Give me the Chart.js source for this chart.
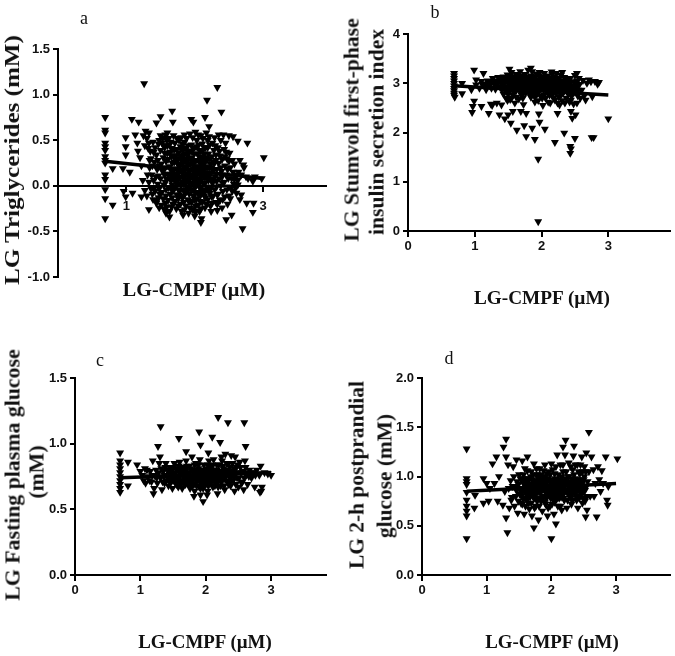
<!DOCTYPE html>
<html>
<head>
<meta charset="utf-8">
<title>LG-CMPF panels</title>
<script src="https://cdn.jsdelivr.net/npm/chart.js@4/dist/chart.umd.min.js"></script>
<style>
    html, body { margin: 0; padding: 0; background: #fff; }
    body { position: relative; width: 675px; height: 656px; overflow: hidden; }
    canvas { position: absolute; filter: blur(0.5px); }
    .label { position: absolute; font-family: "Liberation Serif", serif; color: #111; white-space: nowrap; filter: blur(0.4px); }
    .letter { font-size: 18px; transform: translate(-50%, -50%); }
    .xname { font-size: 18px; font-weight: bold; }
    .yname { font-size: 20px; font-weight: bold; }
</style>
</head>
<body>
<canvas id="panel-a" width="340" height="310" style="left:0;top:0"></canvas>
<canvas id="panel-b" width="335" height="310" style="left:340px;top:0"></canvas>
<canvas id="panel-c" width="340" height="316" style="left:0;top:340px"></canvas>
<canvas id="panel-d" width="335" height="316" style="left:340px;top:340px"></canvas>
<div class="label letter" style="left:84px;top:18px">a</div>
<div class="label letter" style="left:435px;top:12px">b</div>
<div class="label letter" style="left:100px;top:360px">c</div>
<div class="label letter" style="left:449px;top:358px">d</div>
<div class="label xname" style="left:194px;top:290px;transform:translate(-50%,-50%) scaleX(1.12)">LG-CMPF (µM)</div>
<div class="label xname" style="left:542px;top:298px;transform:translate(-50%,-50%) scaleX(1.07)">LG-CMPF (µM)</div>
<div class="label xname" style="left:205px;top:642px;transform:translate(-50%,-50%) scaleX(1.05)">LG-CMPF (µM)</div>
<div class="label xname" style="left:552px;top:642px;transform:translate(-50%,-50%) scaleX(1.05)">LG-CMPF (µM)</div>
<div class="label yname" style="left:12px;top:160px;font-size:22px;transform:translate(-50%,-50%) rotate(-90deg) scaleX(1.14)">LG Triglycerides (mM)</div>
<div class="label yname" style="left:352px;top:130px;transform:translate(-50%,-50%) rotate(-90deg) scaleX(1.08)">LG Stumvoll first-phase</div>
<div class="label yname" style="left:377px;top:132px;transform:translate(-50%,-50%) rotate(-90deg) scaleX(1.08)">insulin secretion index</div>
<div class="label yname" style="left:13px;top:475px;transform:translate(-50%,-50%) rotate(-90deg) scaleX(1.09)">LG Fasting plasma glucose</div>
<div class="label yname" style="left:37px;top:472px;transform:translate(-50%,-50%) rotate(-90deg) scaleX(1.09)">(mM)</div>
<div class="label yname" style="left:357px;top:475px;transform:translate(-50%,-50%) rotate(-90deg) scaleX(1.07)">LG 2-h postprandial</div>
<div class="label yname" style="left:385px;top:476px;transform:translate(-50%,-50%) rotate(-90deg) scaleX(1.07)">glucose (mM)</div>
<script>
// x ticks, y ticks
const xTicksA = [1, 2, 3];
const xTicks = [0, 1, 2, 3];
const yTicksA = [-1, -0.5, 0, 0.5, 1, 1.5];
const yTicksB = [0, 1, 2, 3, 4];
const yTicksC = [0, 0.5, 1, 1.5];
const yTicksD = [0, 0.5, 1, 1.5, 2];

// regression lines
const trendX = [0.69, 3.0];
const trendA = [0.27, 0.08];
const trendB = [2.95, 2.76];
const trendC = [0.74, 0.78];
const trendD = [0.85, 0.93];

// a: triglycerides
const pointsA = [
[.69,.75],[.69,.61],[.69,.58],[.69,.47],[.69,.43],[.69,.39],[.69,.32],[.69,.28],[.69,.25],[.69,.12],[.69,.07],[.69,-.04],[.69,-.14],[.69,-.36],
[1.26,1.12],[2.33,1.08],[2.18,.94],[2.39,.81],[1.67,.82],[1.08,.73],[1.18,.7],[1.5,.76],[1.44,.69],[1.68,.7],[1.95,.73],[1.98,.7],[2.15,.75],[2.21,.65],
[.99,.53],[1.13,.56],[1.28,.6],[.99,.43],[1.16,.47],[.99,.34],[.8,.19],[.95,.19],[1.05,.15],[.8,-.21],[.96,-.06],[.99,-.12],[1.09,-.08],[1.22,-.12],[1.33,-.26],
[1.63,-.34],[1.83,-.32],[2.09,-.4],[2.46,-.37],[2.54,-.32],[2.7,-.47],[2.85,-.29],[2.86,-.19],[2.76,-.19],[2.68,-.1],[2.66,-.15],[3.01,.31],[2.77,.47],[2.63,.49],[2.56,.54],
[2.66,.28],[2.71,.23],[2.85,.05],[2.88,.1],[2.98,.08],[1.17,.38],[1.2,.31],[1.25,.55],[1.3,.52],[1.33,.58],[1.22,.22],[1.27,.44],[1.24,.06],[1.27,-.05],[1.3,-.11],
[1.33,.47],[1.35,.38],[1.36,.3],[1.34,.2],[1.37,.12],[1.33,.04],[1.36,-.03],[1.38,-.09],[1.39,-.15],
[1.42,.42],[1.44,.34],[1.41,.26],[1.45,.18],[1.43,.1],[1.46,.02],[1.42,-.06],[1.47,-.13],[1.44,-.19],[1.48,.5],[1.5,.55],
[1.52,.47],[1.5,.39],[1.54,.31],[1.51,.24],[1.53,.16],[1.5,.08],[1.55,.01],[1.52,-.07],[1.54,-.14],[1.51,-.21],[1.56,-.26],[1.58,-.3],[1.57,.56],[1.6,.58],
[1.62,.52],[1.6,.44],[1.64,.37],[1.61,.29],[1.63,.21],[1.6,.13],[1.65,.06],[1.62,-.02],[1.64,-.09],[1.61,-.16],[1.66,-.23],[1.63,-.28],
[1.69,.55],[1.71,.47],[1.68,.4],[1.72,.33],[1.7,.26],[1.73,.19],[1.69,.11],[1.72,.04],[1.7,-.03],[1.74,-.1],[1.71,-.17],[1.73,-.25],
[1.77,.5],[1.79,.43],[1.76,.36],[1.8,.29],[1.78,.22],[1.81,.15],[1.77,.08],[1.8,.01],[1.78,-.06],[1.82,-.13],[1.79,-.2],[1.81,-.28],[1.85,.56],
[1.85,.48],[1.87,.41],[1.84,.34],[1.88,.27],[1.86,.2],[1.89,.13],[1.85,.06],[1.88,-.01],[1.86,-.08],[1.9,-.15],[1.87,-.22],[1.91,-.3],
[1.93,.57],[1.95,.45],[1.92,.38],[1.96,.31],[1.94,.24],[1.97,.17],[1.93,.1],[1.96,.03],[1.94,-.04],[1.98,-.11],[1.95,-.18],[1.97,-.26],[2,-.33],
[2.01,.59],[2.03,.5],[2,.42],[2.04,.35],[2.02,.28],[2.05,.21],[2.01,.14],[2.04,.07],[2.02,0],[2.06,-.07],[2.03,-.14],[2.05,-.21],[2.07,-.28],[2.1,-.36],
[2.09,.55],[2.11,.46],[2.08,.38],[2.12,.31],[2.1,.24],[2.13,.17],[2.09,.1],[2.12,.03],[2.1,-.04],[2.14,-.11],[2.11,-.18],[2.15,-.24],
[2.17,.58],[2.19,.5],[2.16,.42],[2.2,.35],[2.18,.28],[2.21,.2],[2.17,.13],[2.2,.06],[2.18,-.01],[2.22,-.08],[2.19,-.15],[2.23,-.22],[2.24,-.28],
[2.26,.47],[2.28,.39],[2.25,.32],[2.29,.25],[2.27,.17],[2.3,.1],[2.26,.03],[2.29,-.04],[2.27,-.11],[2.31,-.18],
[2.35,.56],[2.38,.5],[2.34,.42],[2.37,.33],[2.35,.25],[2.39,.16],[2.36,.08],[2.38,0],[2.34,-.09],[2.37,-.16],[2.4,-.24],[2.33,-.27],
[2.42,.56],[2.45,.47],[2.43,.4],[2.47,.3],[2.44,.22],[2.46,.12],[2.43,.04],[2.47,-.04],[2.44,-.12],[2.48,-.2],[2.5,.55],[2.51,.36],[2.52,.2],[2.54,.08],[2.55,-.06],[2.52,-.14],
[2.58,.24],[2.6,.12],[2.57,.02],[2.61,-.08],[2.64,.15],[2.68,.12],[2.72,.2],[2.75,.1],[2.78,.08],
[1.56,.42],[1.58,.27],[1.66,.32],[1.67,.15],[1.75,.24],[1.75,.02],[1.83,.21],[1.83,.09],[1.9,.23],[1.91,.05],[1.99,.25],[1.99,.1],[2.07,.17],[2.06,.02],[2.15,.09],[2.15,.26],[2.23,.13],[1.68,.08],[1.75,.13],[1.84,.16],[1.9,.34],[1.98,.19],[2.07,.32]
];
// a: the solid middle of the cloud
const coreA = [
[1.32,.41],[1.34,.28],[1.31,.12],[1.39,.48],[1.4,.37],[1.38,.22],[1.4,.06],[1.41,-.02],[1.47,.46],[1.46,.28],[1.48,.22],[1.47,.11],[1.48,-.03],[1.49,-.09],[1.45,-.16],[1.48,-.24],
[1.53,.52],[1.55,.44],[1.56,.36],[1.57,.2],[1.56,.12],[1.57,.04],[1.58,-.04],[1.58,-.11],[1.57,-.19],[1.55,-.25],[1.59,.5],[1.6,.36],[1.59,.07],[1.59,-.23],
[1.65,.48],[1.66,.41],[1.67,.25],[1.67,.01],[1.68,-.06],[1.67,-.13],[1.68,-.2],[1.66,.11],[1.69,.33],[1.7,.18],[1.71,.09],[1.74,.4],[1.74,.3],[1.75,.18],[1.75,.07],[1.76,-.04],[1.76,-.14],[1.76,-.22],
[1.74,.52],[1.8,.53],[1.82,.46],[1.83,.39],[1.82,.31],[1.83,.26],[1.84,.02],[1.84,-.04],[1.84,-.11],[1.84,-.18],[1.85,-.26],[1.88,.52],[1.9,.44],[1.9,.38],[1.91,.29],[1.91,.17],[1.91,.09],[1.92,-.02],[1.92,-.09],[1.92,-.17],[1.93,-.24],
[1.97,.53],[1.98,.41],[1.99,.35],[1.99,.28],[2,.21],[2,.06],[2,-.01],[2.01,-.08],[2,-.15],[2.01,-.22],[2.01,-.29],[2.05,.56],[2.06,.45],[2.07,.39],[2.07,.26],[2.08,.05],[2.08,-.03],[2.08,-.11],[2.08,-.17],[2.09,-.25],
[2.12,.52],[2.14,.42],[2.14,.35],[2.15,.21],[2.14,.14],[2.15,.03],[2.16,-.05],[2.16,-.13],[2.17,-.2],[2.21,.54],[2.22,.45],[2.22,.3],[2.23,.24],[2.24,.07],[2.24,-.02],[2.25,-.12],[2.25,-.19],
[2.29,.53],[2.3,.44],[2.31,.34],[2.31,.28],[2.32,.18],[2.32,.05],[2.32,-.01],[2.33,-.1],[2.33,-.2],[2.36,.38],[2.38,.2],[2.4,.29],[2.4,.1],[2.41,.03],[2.41,-.06],[2.41,-.15],
[2.44,.32],[2.46,.37],[2.48,.18],[2.49,.08],[2.5,-.01],[2.5,-.11],[2.5,.27],[2.55,.28],[2.56,.15],[2.58,.07],[2.54,-.02],[2.6,-.02],[2.63,.06],[2.63,.01],
[1.63,.45],[1.7,.4],[1.8,.4],[1.88,.35],[1.95,.38],[2.03,.43],[2.11,.38],[2.19,.42],[2.27,.26],[1.62,.13],[1.72,.12],[1.82,.04],[1.95,.12],[2.03,.03],[2.11,.12],[2.19,.1],[2.27,.08],[1.65,-.02],[1.77,-.1],[1.89,-.05],[1.97,-.04],[2.06,-.1],[2.13,-.07],[2.21,-.04],
[1.73,.27],[1.78,.16],[1.82,.24],[1.86,.11],[1.89,.2],[1.93,.17],[1.94,.3],[1.97,.24],[2.02,.2],[2.03,.12],[2.06,.15],[2.09,.2],[2.11,.28],[1.79,.1],[1.81,.33],[1.86,.29],[1.92,.03],[1.99,.02],[2.05,.28],[2.13,.1],[2.18,.2],[2.2,.14],[2.24,.2],[1.7,.33],[1.76,.3],[1.74,.05],[1.87,.03],[1.97,.09],[2.16,.31],[2.12,.24]
];

// b: Stumvoll index
const pointsB = [
[.69,3.2],[.69,3.15],[.69,3.1],[.69,3.05],[.69,3],[.69,2.95],[.69,2.9],[.69,2.85],[.69,2.8],[.69,2.76],[.7,2.72],
[1.95,.19],[1.95,1.46],[2.43,1.72],[2.44,1.67],[2.43,1.58],[2.34,1.99],[2.2,1.8],[2.5,1.88],[2.75,1.9],[2.78,1.9],[3,2.28],[1.77,1.92],[1.9,1.86],[1.86,2.09],[2.05,2.07],[1.97,2.21],
[1.74,2.14],[1.63,2.05],[1.54,2.19],[1.45,2.28],[1.37,2.36],[1.5,2.36],[1.21,2.39],[1.1,2.53],[.96,2.41],[.97,2.53],[.99,2.64],[.81,2.79],[.81,3],[.99,3.27],[1.13,3.2],[1.02,3.07],
[1.52,3.29],[1.84,3.31],[2.15,3.23],[2.31,3.22],[2.53,3.2],[2.86,3.02],[2.71,3.07],[2.66,2.66],[2.76,2.73],[2.51,2.36],[2.46,2.29],[2.44,2.43],[2.24,2.39],[1.96,2.38],[1.77,2.39],[1.69,2.43],[1.57,2.43],
[.95,2.87],[1.02,2.97],[1.07,2.9],[1.1,3.04],[1.14,2.98],[1.17,2.87],[1.19,3.05],[1.22,2.95],[1.24,2.58],[1.26,2.55],[1.27,3.1],[1.29,2.98],[1.31,2.88],[1.33,2.6],[1.35,3.12],[1.36,3.03],[1.38,2.92],[1.4,2.56],[1.41,3.1],
[1.44,3.01],[1.45,2.9],[1.47,2.7],[1.49,3.17],[1.5,3.08],[1.51,2.98],[1.52,2.85],[1.53,2.67],[1.55,3.22],[1.56,3.12],[1.57,3.02],[1.58,2.93],[1.59,2.82],[1.6,2.6],
[1.62,3.18],[1.63,3.08],[1.64,2.98],[1.65,2.88],[1.66,2.68],[1.68,3.24],[1.69,3.13],[1.7,3.03],[1.71,2.93],[1.72,2.79],[1.73,2.57],[1.75,3.18],[1.76,3.07],[1.77,2.97],[1.78,2.86],
[1.8,3.27],[1.81,3.13],[1.82,3.02],[1.83,2.91],[1.84,2.72],[1.86,3.24],[1.87,3.1],[1.88,3],[1.89,2.88],[1.9,2.62],[1.92,3.19],[1.93,3.07],[1.94,2.96],[1.95,2.82],[1.97,3.22],[1.98,3.12],[1.99,3.01],[2,2.9],[2.01,2.7],[2.02,2.55],
[2.04,3.2],[2.05,3.08],[2.06,2.97],[2.07,2.84],[2.09,3.15],[2.1,3.03],[2.11,2.92],[2.12,2.76],[2.13,2.6],[2.16,3.18],[2.17,3.07],[2.18,2.96],[2.19,2.84],[2.2,2.66],
[2.22,3.2],[2.23,3.1],[2.24,3],[2.25,2.88],[2.26,2.72],[2.27,2.56],[2.29,3.16],[2.3,3.04],[2.31,2.93],[2.32,2.8],[2.34,3.12],[2.35,3],[2.36,2.88],[2.37,2.7],[2.39,3.07],[2.4,2.97],[2.41,2.85],[2.42,2.62],
[2.44,3.03],[2.46,2.93],[2.47,2.82],[2.48,2.58],[2.5,3.16],[2.51,3.02],[2.52,2.9],[2.54,2.75],[2.56,3.1],[2.57,2.98],[2.6,2.86],[2.62,3.06],[2.64,2.75],[2.68,3],[2.74,3.03],[2.8,3.04],[2.84,2.98],
[1.47,3.04],[1.54,2.95],[1.6,3.03],[1.67,3.04],[1.74,2.9],[1.79,3.05],[1.85,2.96],[1.91,2.98],[1.96,3.05],[2.03,2.98],[2.08,2.98],[2.14,3.03],[2.21,2.98],[2.28,3.02]
];
// b: the solid middle of the cloud
const coreB = [
[1.2,3],[1.24,3.04],[1.3,3.05],[1.33,2.96],[1.39,3.05],[1.42,2.96],[1.43,3.13],[1.46,3.1],[1.47,2.84],[1.5,2.78],[1.53,3.14],[1.54,3.05],[1.56,2.88],[1.57,2.76],[1.6,3.12],[1.6,2.94],[1.62,2.85],[1.65,3.15],[1.65,3.06],[1.67,2.94],[1.68,2.84],[1.7,2.76],[1.72,3.14],[1.73,3.05],[1.74,2.98],[1.76,2.8],[1.78,3.12],[1.79,2.96],[1.8,2.88],[1.82,2.78],[1.84,3.15],[1.85,3.05],[1.86,2.88],[1.87,2.78],[1.9,3.12],[1.91,3.05],[1.92,2.9],[1.93,2.78],[1.96,3.15],[1.96,2.96],[1.97,2.86],[1.98,2.75],[2.01,3.12],[2.02,3.05],[2.03,2.88],[2.04,2.76],[2.07,3.14],[2.08,3.05],[2.09,2.9],[2.1,2.8],[2.13,3.1],[2.14,2.97],[2.15,2.88],[2.16,2.76],[2.19,3.12],[2.2,3.03],[2.21,2.92],[2.22,2.8],[2.26,3.1],[2.27,2.97],[2.28,2.87],[2.29,2.76],[2.33,3.05],[2.33,2.94],[2.34,2.85],[2.36,3.1],[2.38,3],[2.39,2.9],[2.4,2.78],[2.43,3.1],[2.44,2.94],[2.45,2.85],[2.45,2.74],[2.48,3.03],[2.49,2.92],[2.5,2.82],[2.53,3.05],[2.53,2.96],[2.55,2.86],
[1.11,2.98],[1.16,2.95],[1.25,2.9],[1.41,2.86],[1.43,2.78],[1.49,2.65],[1.55,2.7],[1.62,2.72],[1.72,2.7],[1.9,2.72],[1.95,2.65],[2.06,2.7],[2.1,2.62],[2.18,2.7],[2.24,2.6],[2.31,2.65],[2.35,2.6],[2.44,2.66],[2.53,2.6],[2.58,2.7],
[1.5,2.92],[1.55,3],[1.61,2.9],[1.66,2.98],[1.69,3],[1.72,2.88],[1.75,3.03],[1.81,2.95],[1.84,3],[1.88,2.93],[1.93,3],[1.97,2.93],[2.01,2.97],[2.05,2.92],[2.1,2.96],[2.13,2.9],[2.17,3],[2.23,2.93],[2.27,2.92],[2.31,2.98],[2.37,2.95],[2.42,2.92]
];

// c: fasting glucose
const pointsC = [
[.69,.93],[.69,.87],[.69,.84],[.69,.81],[.69,.78],[.69,.75],[.69,.72],[.69,.69],[.69,.66],[.69,.63],[2.19,1.2],[2.34,1.16],[2.59,1.16],[1.31,1.13],[1.59,1.04],[1.9,1.09],[2.1,1.05],[1.92,.99],[2.22,1.01],[2.61,.98],[1.27,.98],[1.7,.94],[2.04,.93],
[.81,.86],[.95,.84],[1.19,.87],[1.3,.9],[2.84,.83],[3,.76],[.81,.68],[1.96,.56],[2.02,.61],[1.92,.61],[1.82,.6],[2.85,.64],[2.86,.67],[2.75,.67],[2.83,.63],[1.2,.62],
[1,.79],[1.03,.76],[1.07,.81],[1.08,.7],[1.12,.75],[1.15,.79],[1.17,.71],[1.21,.66],[1.22,.76],[1.24,.8],[1.26,.7],[1.29,.85],[1.31,.74],[1.33,.65],[1.35,.79],[1.37,.7],[1.39,.85],[1.41,.76],[1.43,.68],
[1.45,.82],[1.47,.73],[1.49,.66],[1.5,.78],[1.52,.85],[1.54,.7],[1.55,.75],[1.57,.81],[1.58,.67],[1.6,.86],[1.61,.72],[1.63,.78],[1.64,.66],[1.66,.82],[1.67,.74],[1.69,.69],[1.7,.87],[1.72,.77],[1.73,.71],[1.75,.83],[1.76,.66],[1.78,.75],
[1.79,.9],[1.8,.8],[1.82,.69],[1.83,.64],[1.85,.85],[1.86,.76],[1.87,.72],[1.89,.81],[1.9,.67],[1.91,.88],[1.93,.78],[1.94,.73],[1.96,.66],[1.97,.84],[1.99,.75],[2,.69],[2.02,.81],[2.03,.64],[2.05,.87],[2.06,.77],[2.08,.72],[2.09,.82],[2.11,.67],
[2.12,.88],[2.14,.76],[2.15,.7],[2.17,.84],[2.18,.62],[2.2,.79],[2.21,.73],[2.23,.68],[2.24,.9],[2.26,.83],[2.27,.76],[2.29,.65],[2.3,.92],[2.32,.8],[2.33,.71],[2.35,.85],[2.36,.75],[2.38,.68],[2.39,.91],[2.41,.79],[2.42,.72],[2.44,.64],
[2.45,.9],[2.47,.82],[2.48,.74],[2.5,.67],[2.52,.86],[2.54,.78],[2.56,.71],[2.58,.65],[2.6,.87],[2.62,.76],[2.64,.69],[2.67,.8],[2.7,.74],[2.74,.78],[2.78,.8],[2.82,.76],[2.9,.78],[2.95,.77],
[1.44,.72],[1.48,.76],[1.53,.73],[1.56,.7],[1.59,.75],[1.62,.69],[1.65,.77],[1.68,.72],[1.71,.74],[1.74,.78],[1.77,.7],[1.81,.75],[1.84,.79],[1.88,.74],[1.92,.7],[1.95,.76],[1.98,.72],[2.01,.77],[2.04,.71],[2.07,.75],[2.1,.79],[2.13,.73],[2.16,.77],[2.19,.71],[2.22,.75],[2.25,.79],[2.28,.73],[2.31,.77],[2.34,.72]
];
// c: the solid middle of the cloud
const coreC = [
[1.05,.72],[1.1,.8],[1.14,.72],[1.18,.76],[1.25,.74],[1.28,.78],[1.32,.81],[1.34,.71],[1.36,.75],[1.38,.82],[1.4,.72],[1.42,.8],[1.44,.77],[1.46,.7],[1.48,.8],[1.5,.72],[1.51,.82],[1.53,.77],[1.55,.69],[1.56,.8],[1.58,.73],[1.59,.83],[1.61,.77],[1.63,.71],[1.64,.81],[1.66,.75],[1.67,.69],[1.69,.79],[1.71,.83],[1.72,.72],[1.74,.69],[1.75,.75],[1.77,.81],[1.79,.72],[1.8,.68],[1.82,.78],[1.83,.84],[1.85,.72],[1.86,.68],[1.88,.78],[1.89,.84],[1.91,.74],[1.92,.66],[1.94,.8],[1.95,.71],[1.97,.76],[1.98,.68],[2,.8],[2.01,.73],[2.03,.84],[2.04,.68],[2.06,.8],[2.07,.7],[2.09,.76],[2.1,.84],[2.11,.72],[2.13,.8],[2.14,.68],[2.16,.74],[2.17,.8],[2.19,.67],[2.2,.84],[2.22,.78],[2.24,.71],[2.25,.87],[2.27,.81],[2.28,.68],[2.3,.75],[2.32,.85],[2.33,.77],[2.35,.69],[2.37,.82],[2.38,.78],[2.4,.72],[2.41,.85],[2.43,.75],[2.44,.81],[2.46,.69],[2.47,.78],[2.49,.84],[2.51,.74],[2.53,.82],[2.55,.7],[2.57,.79],[2.59,.74],[2.61,.82],[2.63,.78],[2.66,.75],[2.69,.77],[2.72,.78],[2.76,.76],
[1.37,.76],[1.43,.74],[1.47,.79],[1.52,.75],[1.57,.74],[1.6,.79],[1.65,.72],[1.68,.8],[1.73,.74],[1.76,.78],[1.8,.73],[1.84,.75],[1.87,.8],[1.9,.76],[1.94,.76],[1.99,.79],[2.02,.74],[2.05,.74],[2.08,.78],[2.12,.75],[2.15,.8],[2.18,.75],[2.21,.77],[2.26,.74],[2.29,.78],[2.34,.8],[2.39,.75],[2.44,.77]
];

// d: 2-h glucose
const pointsD = [
[.69,1.28],[.69,.98],[.69,.95],[.69,.92],[.69,.84],[.69,.76],[.69,.7],[.69,.65],[.69,.6],[.69,.37],[1.3,1.38],[1.26,1.3],[1.3,1.2],[1.15,1.2],[1.09,1.13],[1.32,.43],[1.3,.58],[2,.37],[1.73,.48],[2.07,.52],[2.58,1.45],[2.22,1.37],[2.35,1.31],[2.18,1.3],
[2.84,1.2],[3.02,1.18],[2.7,.59],[2.53,.59],[2.86,.76],[2.87,.71],[2.76,.85],[2.88,.9],[2.66,.8],[.95,.73],[.81,.68],[.95,.98],[.82,.81],[1.03,.75],[1.17,.75],[1,.93],[1.05,.88],[1.12,.93],[1.19,1],[1.25,.71],[1.28,.85],
[1.33,1.12],[1.35,.68],[1.37,.96],[1.39,.79],[1.41,1.1],[1.43,.7],[1.44,.9],[1.46,1.17],[1.48,.63],[1.5,1.02],[1.51,.82],[1.53,.73],[1.55,1.16],[1.56,.94],[1.58,.62],[1.59,1.08],[1.6,.85],[1.62,.76],[1.63,1.2],[1.65,.98],[1.66,.67],[1.68,.9],[1.69,1.05],
[1.7,.6],[1.72,.8],[1.73,1.13],[1.75,.94],[1.76,.7],[1.78,1.02],[1.79,.84],[1.8,.56],[1.82,1.08],[1.83,.92],[1.84,.75],[1.86,.65],[1.87,1],[1.89,.86],[1.9,1.12],[1.91,.72],[1.93,.95],[1.94,.6],[1.96,1.05],[1.97,.82],[1.98,.7],[2,1.13],[2.01,.92],[2.03,.78],
[2.04,.62],[2.05,1.03],[2.07,.88],[2.09,1.22],[2.1,.7],[2.12,.97],[2.13,.82],[2.14,1.12],[2.16,.66],[2.17,.92],[2.18,1.05],[2.2,.76],[2.21,1.22],[2.23,.86],[2.24,.68],[2.26,1],[2.27,1.14],[2.29,.8],[2.3,.93],[2.31,.72],[2.33,1.07],[2.34,1.21],[2.36,.86],
[2.37,.98],[2.39,.76],[2.4,1.12],[2.41,.68],[2.43,.92],[2.44,1.03],[2.46,.82],[2.47,1.2],[2.48,.73],[2.5,.97],[2.51,1.1],[2.52,.86],[2.54,1.24],[2.55,.66],[2.56,.95],[2.58,1.05],[2.6,.8],[2.62,1.2],[2.65,1.07],[2.68,.93],[2.72,1.1],[2.78,1.06],[2.74,.97],[2.8,.93],
[1.55,.84],[1.58,.93],[1.61,.98],[1.64,.87],[1.67,.79],[1.7,.97],[1.73,.88],[1.76,.84],[1.79,.95],[1.81,.78],[1.85,.9],[1.88,.8],[1.91,.93],[1.94,.86],[1.97,.95],[2,.84],[2.03,.95],[2.06,.8],[2.08,.96],[2.11,.87],[2.15,.79],[2.19,.9],[2.22,.98],[2.25,.85],[2.28,.95],[2.32,.84],[2.35,.97],[2.38,.88],[2.42,.8],[2.45,.93],[2.49,.84],[2.53,.78],
[1.6,.9],[1.66,.92],[1.71,.85],[1.77,.9],[1.82,.87],[1.86,.96],[1.92,.84],[1.98,.9],[2.04,.87],[2.09,.85],[2.14,.93],[2.2,.84],[2.27,.89],[2.33,.92],[2.39,.85],[2.46,.88]
];
// d: the solid middle of the cloud
const coreD = [
[1.34,.88],[1.38,.76],[1.4,.9],[1.42,1],[1.45,.8],[1.47,.95],[1.49,.75],[1.5,.88],[1.52,.98],[1.54,.8],[1.55,.72],[1.57,1.02],[1.58,.88],[1.59,.78],[1.6,.7],[1.62,.95],[1.63,1.06],[1.64,.8],[1.65,.73],[1.67,.86],[1.68,1],[1.69,.73],[1.71,.92],[1.72,1.02],[1.73,.78],[1.74,.68],[1.75,.88],[1.77,1.08],[1.78,.75],[1.79,.99],[1.8,.9],[1.81,.7],[1.83,1.02],[1.84,.85],[1.85,.97],[1.87,.78],[1.88,1.06],[1.89,.92],[1.9,.74],[1.92,.9],[1.93,1.03],[1.94,.8],[1.95,.68],[1.96,.9],[1.98,1.02],[1.99,.78],[2,.93],[2.01,.72],[2.02,1.07],[2.03,.87],[2.05,.74],[2.06,.98],[2.07,1.1],[2.08,.83],[2.1,.92],[2.11,1.02],[2.12,.78],[2.13,.9],[2.14,.7],[2.16,1],[2.17,.83],[2.18,1.12],[2.19,.78],[2.21,.95],[2.22,.86],[2.23,1.05],[2.25,.76],[2.26,.92],[2.27,1],[2.28,.84],[2.3,1.1],[2.31,.85],[2.32,.98],[2.33,.76],[2.35,1.02],[2.36,.92],[2.37,1.12],[2.38,.8],[2.4,.97],[2.41,.88],[2.42,1.05],[2.43,.78],[2.45,1.12],[2.46,.97],[2.47,.87],[2.48,1.05],[2.49,.78],[2.5,.9],[2.51,1],[2.52,.75],[2.53,1.05],[2.54,.9],[2.55,.8],
[1.56,.98],[1.61,.83],[1.66,.97],[1.7,.9],[1.74,.96],[1.78,.88],[1.82,.94],[1.86,.87],[1.9,.98],[1.94,.9],[1.98,.85],[2.02,.97],[2.05,.88],[2.09,.9],[2.13,.97],[2.17,.87],[2.21,.85],[2.25,.94],[2.29,.88],[2.34,.88],[2.38,.95],[2.42,.9],[2.47,.92],
[1.46,.86],[1.49,.92],[1.53,.86],[1.56,.78],[1.63,.89],[1.68,.82],[1.72,.96],[1.75,.82],[1.79,.78],[1.83,.84],[1.86,.8],[1.89,1],[1.92,.78],[1.95,.98],[1.99,.96],[2.02,.82],[2.05,.93],[2.08,.77],[2.11,.94],[2.15,.85],[2.18,.96],[2.22,.92],[2.26,.82],[2.3,.78],[2.34,.95],[2.37,.83],[2.41,.95],[2.44,.85],[2.48,.94]
];

function toXY(points) {
    return points.map(p => ({ x: p[0], y: p[1] }));
}

function trendLine(ys) {
    return trendX.map((x, i) => ({ x: x, y: ys[i] }));
}

function drawPanel(id, opts) {
    new Chart(document.getElementById(id), {
        type: 'scatter',
        data: {
            datasets: [{
                data: toXY(opts.points),
                pointStyle: 'triangle',
                rotation: 180,
                radius: 4.6,
                borderWidth: 0,
                backgroundColor: '#000'
            }, {
                data: trendLine(opts.trend),
                showLine: true,
                pointRadius: 0,
                borderColor: '#000',
                borderWidth: 3.5
            }]
        },
        options: {
            responsive: false,
            animation: false,
            layout: { padding: opts.padding },
            plugins: { legend: { display: false }, tooltip: { enabled: false } },
            scales: {
                x: {
                    type: 'linear',
                    position: { y: 0 },
                    min: 0,
                    max: opts.xMax,
                    afterBuildTicks: scale => { scale.ticks = opts.xTicks.map(v => ({ value: v })); },
                    border: { color: '#000', width: 2 },
                    grid: { drawOnChartArea: false, color: '#000', lineWidth: 2, tickLength: 5 },
                    ticks: {
                        autoSkip: false,
                        maxRotation: 0,
                        color: '#111',
                        padding: opts.xTickPad,
                        font: { family: 'Liberation Sans', size: 13, weight: 'bold' },
                        callback: v => String(v)
                    }
                },
                y: {
                    position: 'left',
                    min: opts.yTicks[0],
                    max: opts.yTicks[opts.yTicks.length - 1],
                    afterBuildTicks: scale => { scale.ticks = opts.yTicks.map(v => ({ value: v })); },
                    afterFit: scale => { scale.width = opts.axisLeft; },
                    border: { color: '#000', width: 2 },
                    grid: { drawOnChartArea: false, color: '#000', lineWidth: 2, tickLength: 5 },
                    ticks: {
                        autoSkip: false,
                        color: '#111',
                        padding: 3,
                        font: { family: 'Liberation Sans', size: 13, weight: 'bold' },
                        callback: v => v.toFixed(opts.decimals)
                    }
                }
            }
        }
    });
}

drawPanel('panel-a', {
    points: pointsA.concat(coreA), trend: trendA, xTicks: xTicksA, yTicks: yTicksA, xMax: 3.92, decimals: 1,
    axisLeft: 58, xTickPad: 8, padding: { top: 49, bottom: 33, right: 14 }
});
drawPanel('panel-b', {
    points: pointsB.concat(coreB), trend: trendB, xTicks: xTicks, yTicks: yTicksB, xMax: 3.93, decimals: 0,
    axisLeft: 68, xTickPad: 3, padding: { top: 34, bottom: 79, right: 3 }
});
drawPanel('panel-c', {
    points: pointsC.concat(coreC), trend: trendC, xTicks: xTicks, yTicks: yTicksC, xMax: 3.84, decimals: 1,
    axisLeft: 75, xTickPad: 3, padding: { top: 38, bottom: 81, right: 14 }
});
drawPanel('panel-d', {
    points: pointsD.concat(coreD), trend: trendD, xTicks: xTicks, yTicks: yTicksD, xMax: 3.84, decimals: 1,
    axisLeft: 82, xTickPad: 3, padding: { top: 38, bottom: 81, right: 3 }
});
</script>
</body>
</html>
